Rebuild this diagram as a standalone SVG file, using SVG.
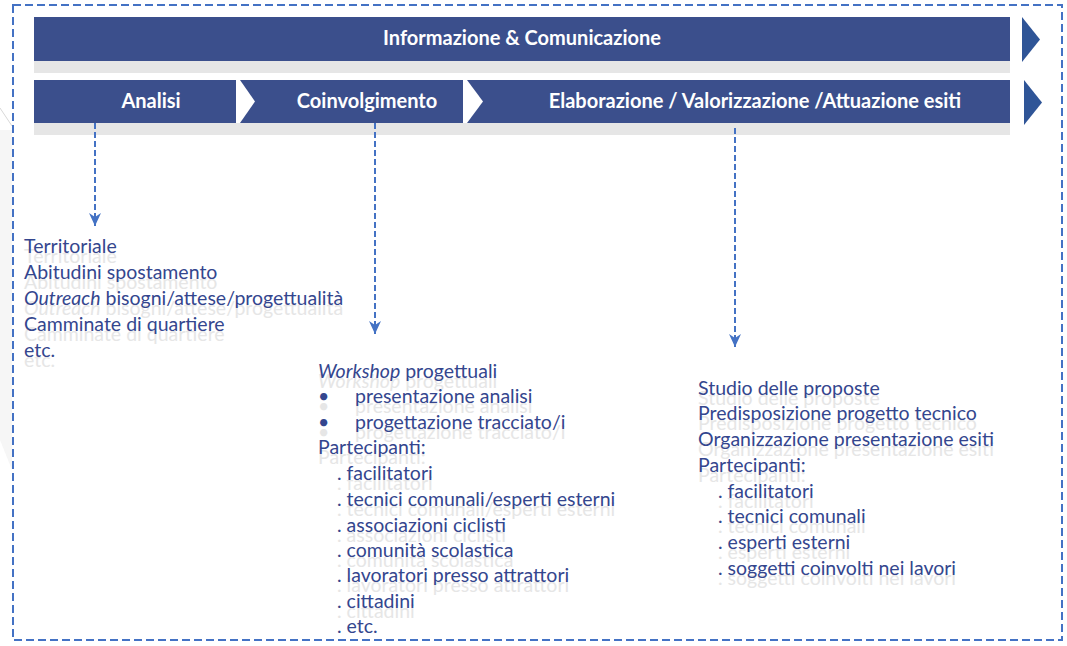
<svg xmlns="http://www.w3.org/2000/svg" width="1067" height="646" viewBox="0 0 1067 646">
<defs>
<style>
.bar{fill:#3b4f8c}
.band{fill:#e6e6e6}
.chev{fill:#2f5597}
.hd{font-family:Lato,"Liberation Sans",sans-serif;font-weight:bold;font-size:20px;fill:#ffffff;text-anchor:middle}
.t{font-family:Lato,"Liberation Sans",sans-serif;font-size:19.5px;fill:#34468e}
.g{font-family:Lato,"Liberation Sans",sans-serif;font-size:19.5px;fill:#e6e6e6}
.dash{fill:none;stroke:#4472c4;stroke-width:2;stroke-dasharray:6 3}
</style>
<marker id="ah" viewBox="0 0 14 14" refX="13" refY="7" markerWidth="14" markerHeight="14" markerUnits="userSpaceOnUse" orient="auto">
<path d="M0,1 L13,7 L0,13 L4,7 Z" fill="#4472c4"/>
</marker>
</defs>
<rect width="1067" height="646" fill="#ffffff"/>
<path d="M0,108 L12,126" stroke="#d8d8d8" stroke-width="1" fill="none"/>
<path d="M0,130 L12,130 L12,470 L0,440 Z" fill="#f6f6f6"/>

<g id="frame">
<rect x="13" y="5" width="1049" height="635" fill="none" stroke="#4472c4" stroke-width="2" stroke-dasharray="8 4"/>
</g>

<g id="info-banner">
<rect class="band" x="34" y="60" width="976" height="13"/>
<rect class="bar" x="34" y="17" width="976" height="44"/>
<polygon class="chev" points="1022,17 1040,39.5 1022,62"/>
<text class="hd" x="522" y="45">Informazione &amp; Comunicazione</text>
</g>

<g id="phase-row">
<rect class="band" x="34" y="122" width="976" height="13"/>
<rect class="bar" x="34" y="80" width="976" height="43"/>
<polygon fill="#ffffff" points="236,80 240,80 255,101.5 240,123 236,123"/>
<polygon fill="#ffffff" points="463,80 467,80 483,101.5 467,123 463,123"/>
<polygon class="chev" points="1024,80 1042,102.5 1024,125"/>
</g>
<g id="analisi"><text class="hd" x="151" y="108">Analisi</text></g>
<g id="coinvolgimento"><text class="hd" x="367" y="108">Coinvolgimento</text></g>
<g id="elaborazione"><text class="hd" x="755" y="108">Elaborazione / Valorizzazione /Attuazione esiti</text></g>

<g id="connectors">
<line class="dash" x1="95" y1="123" x2="95" y2="226" marker-end="url(#ah)"/>
<line class="dash" x1="375" y1="123" x2="375" y2="334" marker-end="url(#ah)"/>
<line class="dash" x1="735" y1="128" x2="735" y2="347" marker-end="url(#ah)"/>
</g>

<g id="analisi-details">
<g class="g" aria-hidden="true">
<text x="24" y="263">Territoriale</text>
<text x="24" y="289">Abitudini spostamento</text>
<text x="24" y="315"><tspan font-style="italic">Outreach</tspan> bisogni/attese/progettualità</text>
<text x="24" y="341">Camminate di quartiere</text>
<text x="24" y="367">etc.</text>
</g>
<text class="t" x="24" y="253">Territoriale</text>
<text class="t" x="24" y="279">Abitudini spostamento</text>
<text class="t" x="24" y="305"><tspan font-style="italic">Outreach</tspan> bisogni/attese/progettualità</text>
<text class="t" x="24" y="331">Camminate di quartiere</text>
<text class="t" x="24" y="357">etc.</text>
</g>

<g id="coinvolgimento-details">
<g class="g" aria-hidden="true">
<text x="318" y="388"><tspan font-style="italic">Workshop</tspan> progettuali</text>
<text x="318" y="413">•</text><text x="355" y="413">presentazione analisi</text>
<text x="318" y="439">•</text><text x="355" y="439">progettazione tracciato/i</text>
<text x="318" y="464">Partecipanti:</text>
<text x="337" y="490">. facilitatori</text>
<text x="337" y="516">. tecnici comunali/esperti esterni</text>
<text x="337" y="542">. associazioni ciclisti</text>
<text x="337" y="567">. comunità scolastica</text>
<text x="337" y="592">. lavoratori presso attrattori</text>
<text x="337" y="618">. cittadini</text>
</g>
<text class="t" x="318" y="378"><tspan font-style="italic">Workshop</tspan> progettuali</text>
<text class="t" x="318" y="403">•</text><text class="t" x="355" y="403">presentazione analisi</text>
<text class="t" x="318" y="429">•</text><text class="t" x="355" y="429">progettazione tracciato/i</text>
<text class="t" x="318" y="454">Partecipanti:</text>
<text class="t" x="337" y="480">. facilitatori</text>
<text class="t" x="337" y="506">. tecnici comunali/esperti esterni</text>
<text class="t" x="337" y="532">. associazioni ciclisti</text>
<text class="t" x="337" y="557">. comunità scolastica</text>
<text class="t" x="337" y="582">. lavoratori presso attrattori</text>
<text class="t" x="337" y="608">. cittadini</text>
<text class="t" x="337" y="633">. etc.</text>
</g>

<g id="elaborazione-details">
<g class="g" aria-hidden="true">
<text x="698" y="405">Studio delle proposte</text>
<text x="698" y="430">Predisposizione progetto tecnico</text>
<text x="698" y="456">Organizzazione presentazione esiti</text>
<text x="698" y="482">Partecipanti:</text>
<text x="718" y="508">. facilitatori</text>
<text x="718" y="533">. tecnici comunali</text>
<text x="718" y="559">. esperti esterni</text>
<text x="718" y="585">. soggetti coinvolti nei lavori</text>
</g>
<text class="t" x="698" y="395">Studio delle proposte</text>
<text class="t" x="698" y="420">Predisposizione progetto tecnico</text>
<text class="t" x="698" y="446">Organizzazione presentazione esiti</text>
<text class="t" x="698" y="472">Partecipanti:</text>
<text class="t" x="718" y="498">. facilitatori</text>
<text class="t" x="718" y="523">. tecnici comunali</text>
<text class="t" x="718" y="549">. esperti esterni</text>
<text class="t" x="718" y="575">. soggetti coinvolti nei lavori</text>
</g>
</svg>
